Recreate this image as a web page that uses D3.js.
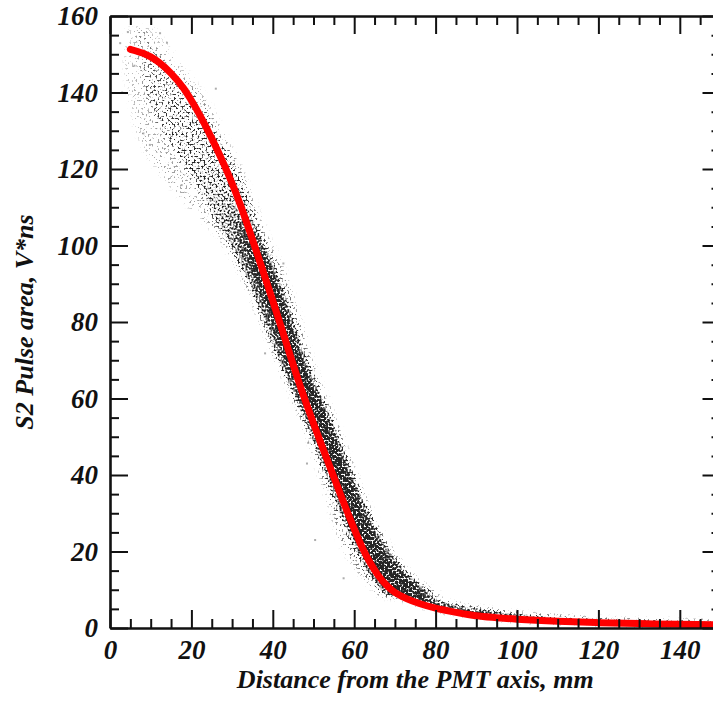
<!DOCTYPE html>
<html>
<head>
<meta charset="utf-8">
<script src="https://cdn.jsdelivr.net/npm/d3@7"></script>
<style>
  html, body { margin: 0; padding: 0; background: #fff; }
  svg { display: block; }
  .lbl { font-family: "Liberation Serif", "Times New Roman", serif; font-weight: bold; font-style: italic; fill: #111; }
</style>
</head>
<body>
<script>
// ---------- data ----------
const xTicks = [0, 20, 40, 60, 80, 100, 120, 140];
const yTicks = [0, 20, 40, 60, 80, 100, 120, 140, 160];
const xTitle = "Distance from the PMT axis, mm";
const yTitle = "S2 Pulse area, V*ns";

// fitted curve (red)
const curveX = [5, 8, 10, 12, 15, 18, 20, 22, 25, 28, 30, 32, 34, 36, 38, 40, 42, 44, 46, 48, 50, 52, 54, 56, 58, 60, 62, 64, 66, 68, 70, 73, 76, 80, 85, 90, 95, 100, 110, 120, 130, 140, 150];
const curveY = [151.3, 150.3, 149.3, 147.9, 145, 141.2, 137.9, 134.2, 128, 121.2, 116.2, 110.7, 104.7, 98.4, 92, 85.5, 78.9, 72.2, 65.6, 59.4, 53.5, 47.8, 42.2, 36.7, 31.2, 25.9, 21, 16.9, 13.6, 11.1, 9.3, 7.6, 6.4, 5.2, 4.1, 3.2, 2.7, 2.3, 1.75, 1.4, 1.15, 0.95, 0.8];

// scatter band (upper part), given as horizontal extents at pulse-area levels
const bandV    = [157, 150, 145, 139, 130, 121.5, 112.8, 106, 103, 94.3, 85.5, 77, 68.3, 56.1, 47.4, 38.7, 30, 21.3, 12.5, 8.2];
const outerL   = [4, 3.5, 3.5, 5, 6, 10, 17, 23, 26.5, 31.5, 35, 38, 41.5, 46.5, 49.5, 52, 54.5, 56.5, 62.5, 66.4];
const outerR   = [11, 16, 19, 24, 27.5, 32, 35, 37.5, 38.5, 42.5, 45.5, 47.8, 50, 55, 58, 61, 64.5, 68.5, 75, 82];
const coreL    = [6, 7, 8, 9, 12, 18, 23, 26, 28, 32.5, 36, 39, 42, 47, 50.5, 53.5, 56.5, 60, 64.5, 68.5];
const coreR    = [9, 12, 16.5, 22, 26, 31, 34, 36, 37, 40.5, 43.5, 46, 48.5, 53.5, 57, 60, 63.5, 67.5, 74, 80];
const innerL   = [7, 9, 12, 15, 19, 24, 28, 30, 31, 34.4, 38, 41, 43.8, 49.5, 52.5, 55, 57.8, 61.5, 66.4, 70];
const innerR   = [7, 9, 12, 15, 19, 24, 28, 33, 36.5, 40, 43, 45.3, 48, 54, 56.5, 59, 62, 66.4, 73, 78];
const outerDen = [0.1, 0.14, 0.15, 0.17, 0.18, 0.2, 0.2, 0.22, 0.25, 0.3, 0.3, 0.3, 0.3, 0.3, 0.3, 0.3, 0.3, 0.3, 0.35, 0.35];
const coreDen  = [0.15, 0.2, 0.25, 0.3, 0.33, 0.38, 0.45, 0.5, 0.55, 0.62, 0.68, 0.72, 0.75, 0.78, 0.78, 0.78, 0.78, 0.78, 0.8, 0.8];
const innerDen = [0, 0, 0, 0, 0, 0, 0, 0.3, 0.6, 0.85, 0.9, 0.9, 0.9, 0.92, 0.92, 0.92, 0.92, 0.92, 0.92, 0.92];

// scatter band (tail), given as vertical extents at distances
const tailX  = [66, 70, 75, 80, 85, 90, 95, 100, 110, 120, 130, 140, 150];
const tailLo = [11.5, 8.3, 6.3, 4.8, 3.8, 3.0, 2.5, 2.1, 1.6, 1.25, 1.0, 0.8, 0.7];
const tailHi = [15.5, 12, 9.2, 7.4, 6.1, 5.2, 4.4, 3.7, 2.8, 2.3, 1.9, 1.7, 1.5];

// isolated points
const outX = [9.8, 17.6, 8.2, 2.5, 12.3, 4.4, 50.4, 54, 48.4, 48.7, 57.4, 38.1, 42.6, 14, 26, 3, 6, 20.5];
const outY = [126.3, 115.8, 129.3, 152.9, 155.5, 155.8, 23, 51.3, 43, 48.4, 13, 71.8, 95.3, 153, 141, 140, 147, 132];

// ---------- drawing ----------
const W = 713, H = 704;
const svg = d3.select("body").append("svg").attr("width", W).attr("height", H);
const x = d3.scaleLinear().domain([0, 150]).range([110, 720.5]);
const y = d3.scaleLinear().domain([0, 160]).range([628, 16]);

const defs = svg.append("defs");
defs.append("clipPath").attr("id", "plot").append("rect")
  .attr("x", x(0)).attr("y", y(160)).attr("width", x(150) - x(0)).attr("height", y(0) - y(160));

function vGrad(id, dens) {
  const y0 = y(bandV[0]), y1 = y(bandV[bandV.length - 1]);
  const g = defs.append("linearGradient").attr("id", id)
    .attr("gradientUnits", "userSpaceOnUse").attr("x1", 0).attr("x2", 0).attr("y1", y0).attr("y2", y1);
  bandV.forEach((v, i) => g.append("stop")
    .attr("offset", (y(v) - y0) / (y1 - y0)).attr("stop-color", "#000").attr("stop-opacity", dens[i]));
}
vGrad("gOuter", outerDen);
vGrad("gCore", coreDen);
vGrad("gInner", innerDen);

const f = defs.append("filter").attr("id", "speckle").attr("filterUnits", "userSpaceOnUse")
  .attr("x", 0).attr("y", 0).attr("width", W).attr("height", H).attr("color-interpolation-filters", "sRGB");
f.append("feGaussianBlur").attr("in", "SourceGraphic").attr("stdDeviation", 2.5).attr("result", "sb");
f.append("feTurbulence").attr("type", "fractalNoise").attr("baseFrequency", 0.5).attr("numOctaves", 1).attr("seed", 7).attr("result", "noise");
f.append("feColorMatrix").attr("in", "noise").attr("type", "matrix")
  .attr("values", "0 0 0 0 0  0 0 0 0 0  0 0 0 0 0  2.8 0 0 0 -0.9").attr("result", "na");
f.append("feComposite").attr("in", "sb").attr("in2", "na").attr("operator", "arithmetic")
  .attr("k1", 0).attr("k2", 1).attr("k3", 1).attr("k4", -1).attr("result", "c");
f.append("feComponentTransfer").attr("in", "c").append("feFuncA").attr("type", "linear").attr("slope", 2.2).attr("intercept", 0);

const plot = svg.append("g").attr("clip-path", "url(#plot)");
const scat = plot.append("g").attr("filter", "url(#speckle)").attr("opacity", 0.85);

const idx = d3.range(bandV.length);
const hArea = (L, R) => d3.area().curve(d3.curveBasis)
  .y(i => y(bandV[i])).x0(i => x(L[i])).x1(i => x(R[i]));
scat.append("path").attr("d", hArea(outerL, outerR)(idx)).attr("fill", "url(#gOuter)");
scat.append("path").attr("d", hArea(coreL, coreR)(idx)).attr("fill", "url(#gCore)");
scat.append("path").attr("d", hArea(innerL, innerR)(idx)).attr("fill", "url(#gInner)");
const tIdx = d3.range(tailX.length);
scat.append("path").attr("d", d3.area().curve(d3.curveBasis)
  .x(i => x(tailX[i])).y0(i => y(tailLo[i])).y1(i => y(tailHi[i]))(tIdx))
  .attr("fill", "#000").attr("fill-opacity", 0.92);

plot.append("g").selectAll("rect").data(d3.range(outX.length)).join("rect")
  .attr("x", i => x(outX[i]) - 1).attr("y", i => y(outY[i]) - 1)
  .attr("width", 2).attr("height", 2).attr("fill", "#777").attr("fill-opacity", 0.6);

plot.append("path")
  .attr("d", d3.line().curve(d3.curveCatmullRom).x(i => x(curveX[i])).y(i => y(curveY[i]))(d3.range(curveX.length)))
  .attr("fill", "none").attr("stroke", "#ff0000").attr("stroke-width", 7).attr("stroke-linecap", "round");

// ---------- axes ----------
const xMinor = d3.range(0, 151, 5).filter(v => v % 20 !== 0);
const yMinor = d3.range(0, 161, 5).filter(v => v % 20 !== 0);
const xMajorAll = d3.range(0, 151, 20);

function styleAxis(g, showDomain) {
  g.select(".domain").attr("stroke", "#111").attr("stroke-width", showDomain ? 2.6 : 0);
  g.selectAll(".tick line").attr("stroke", "#111").attr("stroke-width", 2);
  g.selectAll(".tick text").attr("class", "lbl").attr("font-size", 27).attr("fill", "#111");
  g.attr("font-family", null).attr("font-size", null);
}

// minor ticks
svg.append("g").attr("transform", `translate(0,${y(0)})`)
  .call(d3.axisBottom(x).tickValues(xMinor).tickSize(-9).tickSizeOuter(0).tickFormat(""))
  .call(g => { styleAxis(g, false); g.select(".domain").remove(); });
svg.append("g").attr("transform", `translate(0,${y(160)})`)
  .call(d3.axisTop(x).tickValues(xMinor).tickSize(-9).tickSizeOuter(0).tickFormat(""))
  .call(g => { styleAxis(g, false); g.select(".domain").remove(); });
svg.append("g").attr("transform", `translate(${x(0)},0)`)
  .call(d3.axisLeft(y).tickValues(yMinor).tickSize(-9).tickSizeOuter(0).tickFormat(""))
  .call(g => { styleAxis(g, false); g.select(".domain").remove(); });
svg.append("g").attr("transform", `translate(${x(150)},0)`)
  .call(d3.axisRight(y).tickValues(yMinor).tickSize(-9).tickSizeOuter(0).tickFormat(""))
  .call(g => { styleAxis(g, false); g.select(".domain").remove(); });

// major ticks + frame
svg.append("g").attr("transform", `translate(0,${y(160)})`)
  .call(d3.axisTop(x).tickValues(xMajorAll).tickSize(-18).tickSizeOuter(0).tickFormat(""))
  .call(g => styleAxis(g, true));
svg.append("g").attr("transform", `translate(${x(150)},0)`)
  .call(d3.axisRight(y).tickValues(yTicks).tickSize(-18).tickSizeOuter(0).tickFormat(""))
  .call(g => styleAxis(g, true));
svg.append("g").attr("transform", `translate(0,${y(0)})`)
  .call(d3.axisBottom(x).tickValues(xTicks).tickSize(-18).tickSizeOuter(0).tickPadding(12).tickFormat(d => String(d)))
  .call(g => styleAxis(g, true));
svg.append("g").attr("transform", `translate(${x(0)},0)`)
  .call(d3.axisLeft(y).tickValues(yTicks).tickSize(-18).tickSizeOuter(0).tickPadding(12).tickFormat(d => String(d)))
  .call(g => styleAxis(g, true));

// titles
svg.append("text").attr("class", "lbl").attr("font-size", 26)
  .attr("x", (x(0) + x(150)) / 2).attr("y", 688).attr("text-anchor", "middle").text(xTitle);
svg.append("text").attr("class", "lbl").attr("font-size", 26)
  .attr("transform", `translate(33,${(y(0) + y(160)) / 2}) rotate(-90)`).attr("text-anchor", "middle").text(yTitle);
</script>
</body>
</html>
